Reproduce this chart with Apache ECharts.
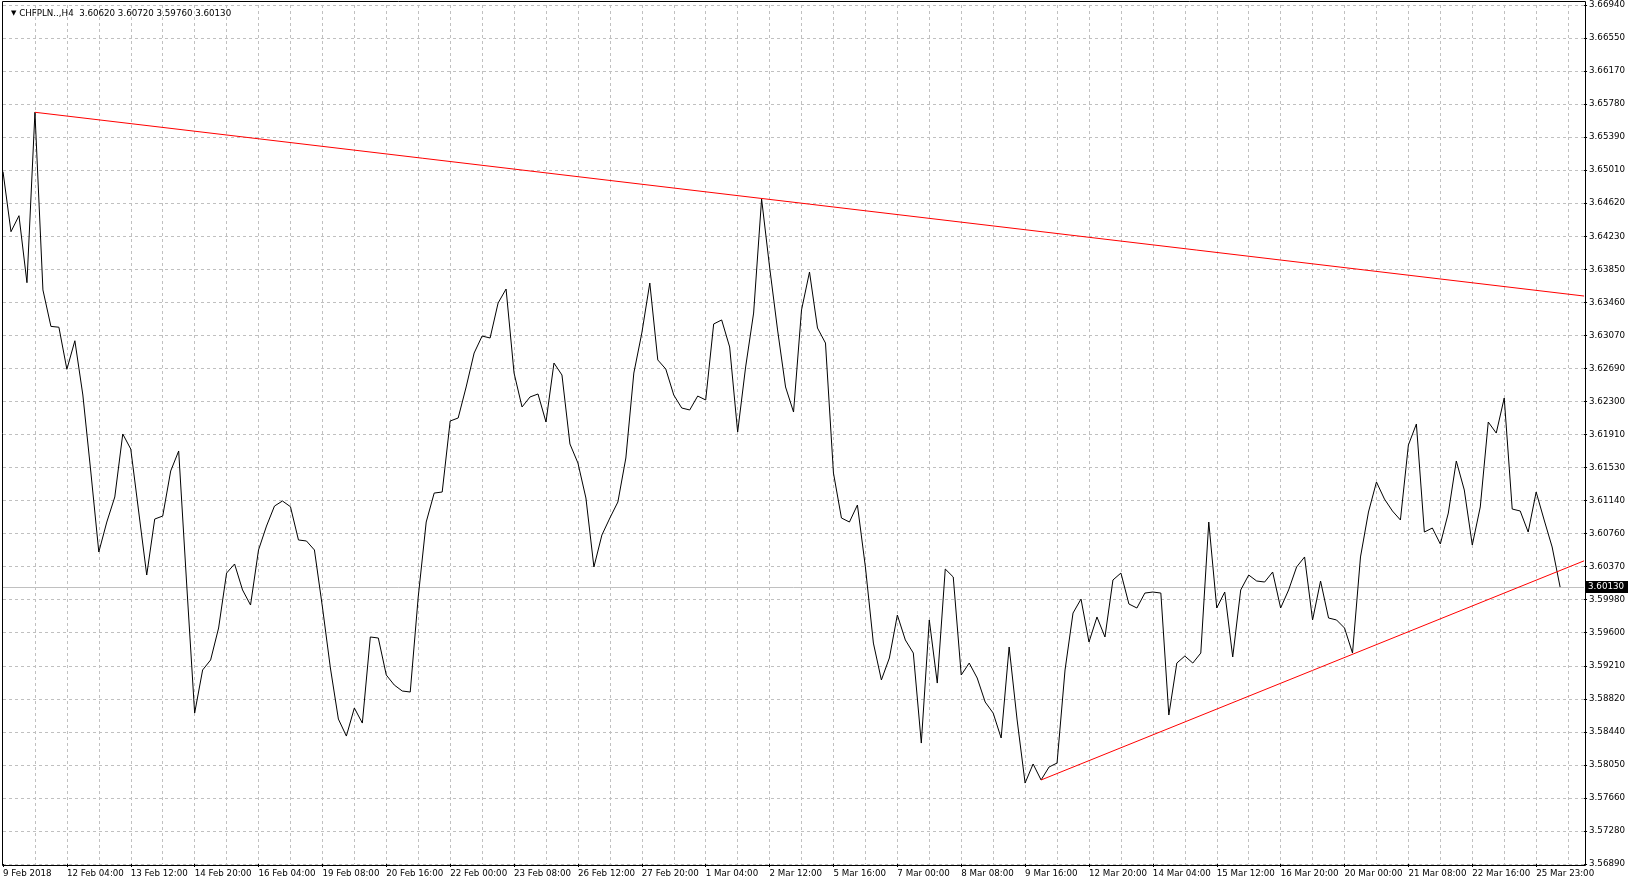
<!DOCTYPE html>
<html>
<head>
<meta charset="utf-8">
<script src="https://cdn.jsdelivr.net/npm/echarts@6/dist/echarts.min.js"></script>
<style>
html,body{margin:0;padding:0;background:#fff;}
#chart{width:1628px;height:887px;}
</style>
</head>
<body>
<div id="chart"></div>
<script>
// ---- data ----
const titleSymbol = 'CHFPLN..,H4';
const titleOHLC = '3.60620 3.60720 3.59760 3.60130';

// H4 closes, one per bar (196 bars)
const closes = [
 3.64990, 3.64288, 3.64475, 3.63691, 3.65685, 3.63606, 3.63180, 3.63170, 3.62678, 3.63012,
 3.62377, 3.61476, 3.60540, 3.60891, 3.61184, 3.61921, 3.61745, 3.61008, 3.60271, 3.60926,
 3.60961, 3.61488, 3.61722, 3.60166, 3.58656, 3.59160, 3.59277, 3.59651, 3.60294, 3.60400,
 3.60096, 3.59920, 3.60564, 3.60844, 3.61078, 3.61137, 3.61070, 3.60681, 3.60669, 3.60564,
 3.59897, 3.59183, 3.58586, 3.58387, 3.58715, 3.58539, 3.59546, 3.59534, 3.59101, 3.58984,
 3.58914, 3.58902, 3.60014, 3.60891, 3.61230, 3.61242, 3.62073, 3.62108, 3.62471, 3.62868,
 3.63067, 3.63044, 3.63453, 3.63617, 3.62634, 3.62237, 3.62354, 3.62389, 3.62061, 3.62751,
 3.62611, 3.61804, 3.61581, 3.61172, 3.60365, 3.60739, 3.60938, 3.61125, 3.61640, 3.62634,
 3.63102, 3.63687, 3.62787, 3.62681, 3.62377, 3.62225, 3.62202, 3.62365, 3.62319, 3.63208,
 3.63255, 3.62939, 3.61944, 3.62705, 3.63336, 3.64670, 3.63875, 3.63138, 3.62471, 3.62178,
 3.63372, 3.63816, 3.63161, 3.62985, 3.61464, 3.60938, 3.60891, 3.61090, 3.60365, 3.59475,
 3.59043, 3.59300, 3.59803, 3.59511, 3.59358, 3.58305, 3.59745, 3.59007, 3.60341, 3.60248,
 3.59101, 3.59241, 3.59066, 3.58785, 3.58656, 3.58364, 3.59429, 3.58575, 3.57837, 3.58060,
 3.57873, 3.58025, 3.58071, 3.59160, 3.59826, 3.59990, 3.59487, 3.59780, 3.59546, 3.60213,
 3.60294, 3.59932, 3.59885, 3.60060, 3.60072, 3.60060, 3.58633, 3.59241, 3.59323, 3.59241,
 3.59358, 3.60891, 3.59885, 3.60072, 3.59312, 3.60096, 3.60271, 3.60201, 3.60189, 3.60306,
 3.59885, 3.60096, 3.60365, 3.60482, 3.59745, 3.60201, 3.59768, 3.59745, 3.59651, 3.59358,
 3.60482, 3.61008, 3.61359, 3.61160, 3.61020, 3.60915, 3.61792, 3.62038, 3.60774, 3.60821,
 3.60634, 3.60996, 3.61605, 3.61266, 3.60622, 3.61067, 3.62061, 3.61932, 3.62342, 3.61043,
 3.61020, 3.60774, 3.61242, 3.60915, 3.60599, 3.60130
];

// time labels, one every 8 bars
const xTickLabels = [
 '9 Feb 2018', '12 Feb 04:00', '13 Feb 12:00', '14 Feb 20:00', '16 Feb 04:00',
 '19 Feb 08:00', '20 Feb 16:00', '22 Feb 00:00', '23 Feb 08:00', '26 Feb 12:00',
 '27 Feb 20:00', '1 Mar 04:00', '2 Mar 12:00', '5 Mar 16:00', '7 Mar 00:00',
 '8 Mar 08:00', '9 Mar 16:00', '12 Mar 20:00', '14 Mar 04:00', '15 Mar 12:00',
 '16 Mar 20:00', '20 Mar 00:00', '21 Mar 08:00', '22 Mar 16:00', '25 Mar 23:00'
];

// price scale labels, bottom to top
const yTickLabels = [
 '3.56890', '3.57280', '3.57660', '3.58050', '3.58440', '3.58820', '3.59210',
 '3.59600', '3.59980', '3.60370', '3.60760', '3.61140', '3.61530', '3.61910',
 '3.62300', '3.62690', '3.63070', '3.63460', '3.63850', '3.64230', '3.64620',
 '3.65010', '3.65390', '3.65780', '3.66170', '3.66550', '3.66940'
];
const priceMin = 3.56890;
const priceMax = 3.66940;

// trend lines: [bar index, price]
const upperTrend = [[4, 3.65685], [198, 3.63535]];
const lowerTrend = [[130, 3.57873], [198, 3.60437]];

const currentPrice = 3.60130;
const currentPriceLabel = '3.60130';

// slots: bars plus empty space up to the right edge
const slotCount = 199;
const categories = Array.from({length: slotCount}, (_, i) => String(i));

// ---- chart ----
const FONT = 'DejaVu Sans';
const FS = 8.7;
const chart = echarts.init(document.getElementById('chart'), null, {renderer: 'canvas'});
const every8 = (i) => i % 8 === 0 && (i / 8) < xTickLabels.length;
const every4 = (i) => i > 0 && i % 4 === 0;
const gridColor = '#c0c0c0';

chart.setOption({
  animation: false,
  backgroundColor: '#ffffff',
  title: {
    text: '{a|▼} ' + titleSymbol + '  ' + titleOHLC,
    left: 6,
    top: 4,
    textStyle: {
      fontFamily: FONT, fontSize: FS, fontWeight: 'normal', color: '#000',
      rich: { a: { fontSize: 7, fontFamily: FONT, color: '#000' } }
    }
  },
  grid: { left: 3, right: 43, top: 5, bottom: 23, containLabel: false },
  xAxis: {
    type: 'category',
    data: categories,
    boundaryGap: false,
    offset: 2,
    axisLine: { show: false },
    axisTick: { show: true, interval: every8, length: 3, lineStyle: { color: '#000' } },
    axisLabel: {
      interval: every8,
      formatter: (v, i) => xTickLabels[i / 8],
      align: 'left',
      margin: 3,
      color: '#000',
      fontFamily: FONT,
      fontSize: FS
    },
    splitLine: { show: true, interval: every4, lineStyle: { color: gridColor, type: [3, 3], width: 1 } }
  },
  yAxis: [
    {
      type: 'value',
      position: 'right',
      min: 0,
      max: yTickLabels.length - 1,
      interval: 1,
      axisLine: { show: false },
      axisTick: { show: true, length: 3, lineStyle: { color: '#000' } },
      axisLabel: {
        formatter: (v) => yTickLabels[Math.round(v)],
        margin: 5,
        color: '#000',
        fontFamily: FONT,
        fontSize: FS
      },
      splitLine: { show: true, lineStyle: { color: gridColor, type: [3, 3], width: 1 } }
    },
    {
      type: 'value',
      min: priceMin,
      max: priceMax,
      show: false
    }
  ],
  series: [
    {
      type: 'line',
      name: 'close',
      data: closes,
      yAxisIndex: 1,
      symbol: 'none',
      lineStyle: { color: '#000000', width: 1 },
      z: 3,
      markLine: {
        silent: true,
        symbol: 'none',
        precision: 5,
        animation: false,
        z: 1,
        lineStyle: { color: '#c0c0c0', type: 'solid', width: 1 },
        label: {
          position: 'end',
          distance: 1,
          formatter: currentPriceLabel,
          backgroundColor: '#000',
          color: '#fff',
          fontFamily: FONT,
          fontSize: FS,
          padding: [2, 6, 1, 3]
        },
        data: [{ yAxis: currentPrice }]
      }
    },
    {
      type: 'line',
      name: 'upper',
      data: upperTrend,
      yAxisIndex: 1,
      symbol: 'none',
      lineStyle: { color: '#ff0000', width: 1 },
      z: 4
    },
    {
      type: 'line',
      name: 'lower',
      data: lowerTrend,
      yAxisIndex: 1,
      symbol: 'none',
      lineStyle: { color: '#ff0000', width: 1 },
      z: 4
    }
  ],
  graphic: [
    {
      type: 'rect',
      silent: true,
      z: 100,
      shape: { x: 2.5, y: 1.5, width: 1583, height: 864 },
      style: { fill: null, stroke: '#000', lineWidth: 1 }
    }
  ]
});
</script>
</body>
</html>
